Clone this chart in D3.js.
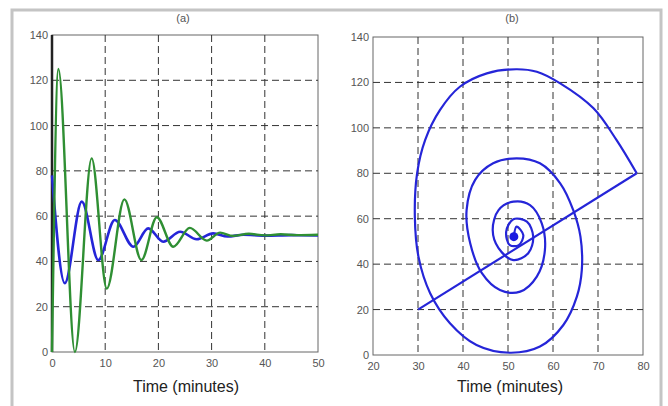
<!DOCTYPE html>
<html>
<head>
<meta charset="utf-8">
<script src="https://cdnjs.cloudflare.com/ajax/libs/d3/7.8.5/d3.min.js"></script>
<style>
body { margin: 0; background: #fff; }
.axisClass text { font-family: "Liberation Sans Narrow", "Liberation Sans", Arial, sans-serif; font-size: 11px; fill: #555; }
.grid { stroke: #333; stroke-dasharray: 7 4; stroke-width: 1; }
.xlabel { font-family: "Liberation Sans", Arial, sans-serif; font-size: 16px; fill: #222; }
.title { font-family: "Liberation Sans Narrow", "Liberation Sans", Arial, sans-serif; font-size: 11px; fill: #555; }
</style>
</head>
<body>
<div id="chart"></div>
<script>

// (a) time responses
const timeGreen = [0, 1.2, 4.3, 7.45, 10.3, 13.6, 16.8, 19.7, 22.8, 25.9, 29.1, 31.6, 34, 37, 40, 43, 46, 50]
const valGreen  = [0, 125, 0, 85.5, 28, 67.4, 40.6, 59.5, 46.5, 54.8, 49.2, 52.7, 51.3, 52.2, 51.5, 52, 51.6, 51.8]

const timeBlue = [0, 2.4, 5.6, 8.7, 11.8, 15.3, 18.1, 20.9, 24.1, 27.2, 30.3, 33, 36, 40, 45, 50]
const valBlue  = [78, 30.4, 66.4, 40.6, 58.3, 46.5, 54.6, 48.7, 53.1, 49.8, 52.4, 51, 51.8, 51.4, 51.6, 51.5]

// (b) phase plot: straight start segment then spiral
const startU = [30, 78.6]
const startV = [20, 80]

const spiralU = [78.6, 74.1, 69, 61.6, 56.4, 51.8, 45.3, 39.3, 34.9, 31.6, 29.8, 29.3, 30.1, 32.7, 37.1, 43, 50.4, 57.1, 62.3, 65.3, 66.4, 66.1, 64.5, 61.6, 57.1, 51.9, 46.7, 42.7, 40.8, 41.6, 44.2, 48.2, 52.7, 56.4, 58.2, 57.5, 54.9, 51.2, 47.9, 46.6, 47.9, 51.2, 54.5, 55.6, 54.2, 51.2, 49.6, 50.4, 52.4, 53.4, 51.9, 51.3]
const spiralV = [80, 94.7, 108.6, 119.6, 124.7, 125.8, 124, 118.1, 107.9, 94.7, 80, 60.9, 43.3, 27.2, 14, 4.4, 1, 3.7, 13.2, 25.7, 37.4, 52.1, 63.8, 75.6, 84.4, 86.6, 84.4, 77.1, 63.8, 49.2, 36, 28.6, 27.9, 34.5, 46.2, 58, 66, 67.5, 63.8, 55, 47, 41.8, 44.8, 52.1, 58.7, 59.8, 54.3, 48.4, 48.4, 52.8, 56.5, 52.1]
const centerU = 51.3
const centerV = 52.1

const ticksYa = [0, 20, 40, 60, 80, 100, 120, 140]
const ticksXa = [0, 10, 20, 30, 40, 50]
const ticksXb = [20, 30, 40, 50, 60, 70, 80]
const ticksYb = [0, 20, 40, 60, 80, 100, 120, 140]

const width = 668
const height = 406

const svg = d3.select('#chart').append('svg').attr("width", width).attr("height", height)

// outer frame of the figure
svg.append('rect')
    .attr("x", 12).attr("y", 10)
    .attr("width", 649).attr("height", 420)
    .attr("fill", "none")
    .attr("stroke", "#c4c4c4")
    .attr("stroke-width", 3)

const panelA = {left: 52, right: 318, top: 35, bottom: 352, titleX: 183, labelX: 186}
const panelB = {left: 373, right: 643, top: 37, bottom: 355, titleX: 512, labelX: 510}

const xA = d3.scaleLinear().domain([0, 50]).range([panelA.left, panelA.right])
const yA = d3.scaleLinear().domain([0, 140]).range([panelA.bottom, panelA.top])
const xB = d3.scaleLinear().domain([20, 80]).range([panelB.left, panelB.right])
const yB = d3.scaleLinear().domain([0, 140]).range([panelB.bottom, panelB.top])

function drawPanel(p, x, y, xt, yt, title){

    svg.append('rect')
    .attr("x", p.left).attr("y", p.top)
    .attr("width", p.right - p.left).attr("height", p.bottom - p.top)
    .attr("fill", "#fff")
    .attr("stroke", "#666")
    .attr("stroke-width", 1)

    xt.slice(1, -1).forEach(function (d){
        svg.append('line')
        .attr("class", "grid")
        .attr("x1", x(d)).attr("x2", x(d))
        .attr("y1", p.top).attr("y2", p.bottom)
    })
    yt.slice(1, -1).forEach(function (d){
        svg.append('line')
        .attr("class", "grid")
        .attr("x1", p.left).attr("x2", p.right)
        .attr("y1", y(d)).attr("y2", y(d))
    })

    svg.append('g')
    .attr("transform", `translate(0,${p.bottom})`)
    .attr('class', "axisClass")
        .call(d3.axisBottom(x).tickValues(xt).tickSize(0).tickPadding(7))
        .select(".domain").remove()

    svg.append('g')
    .attr("transform", `translate(${p.left},0)`)
    .attr('class', "axisClass")
        .call(d3.axisLeft(y).tickValues(yt).tickSize(0).tickPadding(4))
        .select(".domain").remove()

    svg.append('text')
    .attr("class", "xlabel")
    .attr("x", p.labelX)
    .attr("y", 392)
    .attr("text-anchor", "middle")
    .text("Time  (minutes)")

    svg.append('text')
    .attr("class", "title")
    .attr("x", p.titleX)
    .attr("y", 22)
    .attr("text-anchor", "middle")
    .text(title)
}

drawPanel(panelA, xA, yA, ticksXa, ticksYa, "(a)")
drawPanel(panelB, xB, yB, ticksXb, ticksYb, "(b)")

// dark left edge in panel (a)
svg.append('line')
    .attr("x1", panelA.left).attr("x2", panelA.left)
    .attr("y1", panelA.top).attr("y2", panelA.bottom)
    .attr("stroke", "#222")
    .attr("stroke-width", 2.5)

const lineA = d3.line()
    .x(d => xA(d[0]))
    .y(d => yA(d[1]))
    .curve(d3.curveMonotoneX)

svg.append('path')
    .datum(timeBlue.map((t, i) => [t, valBlue[i]]))
    .attr("d", lineA)
    .attr("fill", "none")
    .attr("stroke", "#2525d8")
    .attr("stroke-width", 2.6)

svg.append('path')
    .datum(timeGreen.map((t, i) => [t, valGreen[i]]))
    .attr("d", lineA)
    .attr("fill", "none")
    .attr("stroke", "#2f8f33")
    .attr("stroke-width", 2.4)

// phase plot
svg.append('path')
    .datum(startU.map((u, i) => [u, startV[i]]))
    .attr("d", d3.line().x(d => xB(d[0])).y(d => yB(d[1])))
    .attr("fill", "none")
    .attr("stroke", "#2525d8")
    .attr("stroke-width", 2.2)

svg.append('path')
    .datum(spiralU.map((u, i) => [u, spiralV[i]]))
    .attr("d", d3.line().x(d => xB(d[0])).y(d => yB(d[1])).curve(d3.curveCatmullRom))
    .attr("fill", "none")
    .attr("stroke", "#2525d8")
    .attr("stroke-width", 2.2)

svg.append('circle')
    .attr("cx", xB(centerU))
    .attr("cy", yB(centerV))
    .attr("r", 4.5)
    .attr("fill", "#1a1ae0")

</script>
</body>
</html>
